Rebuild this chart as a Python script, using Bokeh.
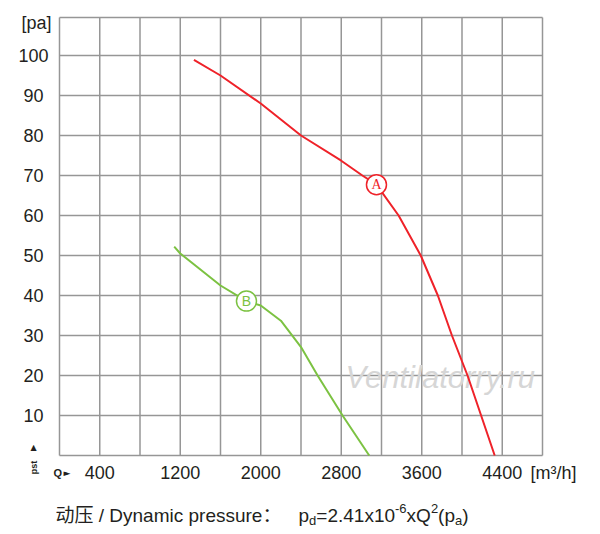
from math import pi
from bokeh.plotting import figure
from bokeh.models import Label, ColumnDataSource, Range1d
from bokeh.core.properties import value
from bokeh.embed import file_html
from bokeh.resources import INLINE

# curve A (red) and curve B (green): Q [m3/h] against static pressure [pa]
a_q = [1336, 1600, 2000, 2400, 2800, 3010, 3150, 3370, 3590, 3760, 3900, 4055, 4190, 4325]
a_p = [98.9, 95, 88, 80, 73.7, 70, 67.7, 60, 50, 40, 30, 20, 10, 0]
b_q = [1140, 1200, 1600, 1858, 2000, 2200, 2400, 2565, 2813, 3078]
b_p = [52.2, 50.5, 42.5, 38.6, 37.5, 33.7, 27.1, 20, 10, 0]

# the circled letters sitting on the curves
mark_q = [3150, 1858]
mark_p = [67.7, 38.6]
mark_txt = ["A", "B"]

x_grid = list(range(0, 4801, 400))
y_grid = list(range(0, 101, 10))
x_ticks = [400, 1200, 2000, 2800, 3600, 4400]
y_ticks = [10, 20, 30, 40, 50, 60, 70, 80, 90, 100]

RED = "#ef2229"
GREEN = "#7cc242"
GRID = "#969696"
INK = "#231f20"
FONT = "Liberation Sans, Noto Sans CJK SC"

W, H = 600, 534
# grid box in page pixels: left, right, top, bottom
GX0, GX1, GY0, GY1 = 59, 542, 17, 455
XMAX = 4800
YTOP = 109.5  # value at the top edge of the grid box


# page pixel -> data; the frame covers the whole canvas so texts round the grid are not clipped
def qx(px):
    return (px - GX0) * XMAX / (GX1 - GX0)


def py(px):
    return (GY1 - px) * YTOP / (GY1 - GY0)


p = figure(width=W, height=H, x_range=Range1d(qx(0), qx(W)), y_range=Range1d(py(H), py(0)),
           output_backend="svg", toolbar_location=None,
           x_axis_location=None, y_axis_location=None, min_border=0)
p.xgrid.visible = False
p.ygrid.visible = False
p.outline_line_color = None
p.background_fill_color = "white"
p.border_fill_color = "white"

# grid box
p.segment(x0=x_grid, y0=[0] * len(x_grid), x1=x_grid, y1=[YTOP] * len(x_grid),
          line_color=GRID, line_width=1.5)
p.segment(x0=[0] * (len(y_grid) + 1), y0=y_grid + [YTOP], x1=[XMAX] * (len(y_grid) + 1),
          y1=y_grid + [YTOP], line_color=GRID, line_width=1.5)

# watermark, over the grid and under the curves
p.text(x=[qx(345)], y=[py(377)], text=["Ventilatorry.ru"], text_font=value(FONT),
       text_font_size="31px", text_font_style="italic", text_color="#d6d6d6",
       text_baseline="alphabetic")

p.line(a_q, a_p, line_color=RED, line_width=2)
p.line(b_q, b_p, line_color=GREEN, line_width=2)

marks = ColumnDataSource(dict(q=mark_q, p=mark_p, t=mark_txt, c=[RED, GREEN],
                              f=["Liberation Serif", "Liberation Sans"]))
p.scatter("q", "p", source=marks, size=20, fill_color="white", line_color="c", line_width=1.5)
p.text("q", "p", text="t", source=marks, text_color="c", text_font="f",
       text_font_size="14px", text_align="center", text_baseline="middle")

# tick labels
p.text(x=x_ticks, y=[py(472)] * len(x_ticks), text=[str(v) for v in x_ticks],
       text_font=value(FONT), text_font_size="18px", text_color=INK,
       text_align="center", text_baseline="middle")
p.text(x=[qx(33)] * len(y_ticks), y=y_ticks, text=[str(v) for v in y_ticks],
       text_font=value(FONT), text_font_size="18px", text_color=INK,
       text_align="center", text_baseline="middle")

# units and axis marks
p.add_layout(Label(x=qx(36), y=py(22), text="[pa]", text_font=FONT, text_font_size="18px",
                   text_color=INK, text_align="center", text_baseline="middle"))
p.add_layout(Label(x=qx(530), y=py(472), text="[m³/h]", text_font=FONT, text_font_size="18px",
                   text_color=INK, text_baseline="middle"))
p.add_layout(Label(x=qx(53), y=py(472), text="Q", text_font=FONT, text_font_size="11px",
                   text_font_style="bold", text_color=INK, text_baseline="middle"))
p.add_layout(Label(x=qx(63), y=py(472), text="►", text_font="DejaVu Sans", text_font_size="9px",
                   text_color=INK, text_baseline="middle"))
p.add_layout(Label(x=qx(33), y=py(447), text="▲", text_font="DejaVu Sans", text_font_size="8px",
                   text_color=INK, text_align="center", text_baseline="middle"))
p.add_layout(Label(x=qx(33), y=py(467), text="pst", text_font=FONT, text_font_size="9px",
                   text_font_style="bold", text_color=INK, angle=pi / 2,
                   text_align="center", text_baseline="middle"))

# dynamic pressure line under the chart, sub/superscripts as separate pieces
pieces = [
    ("动压 / Dynamic pressure：", 55, 515, 19),
    ("p", 298, 515, 19),
    ("d", 308.6, 520, 13),
    ("=", 315.8, 515, 19),
    ("2.41x10", 326.9, 515, 19),
    ("-6", 394.5, 508, 13),
    ("x", 406.1, 515, 19),
    ("Q", 415.6, 515, 19),
    ("2", 430.4, 508, 13),
    ("(", 437.6, 515, 19),
    ("p", 443.9, 515, 19),
    ("a", 454.5, 520, 13),
    (")", 461.7, 515, 19),
]
for txt, x, y, s in pieces:
    p.add_layout(Label(x=qx(x), y=py(y), text=txt, text_font=FONT, text_font_size="%dpx" % s,
                       text_color=INK, text_baseline="alphabetic"))

open("out.html", "w").write(file_html(p, INLINE))
